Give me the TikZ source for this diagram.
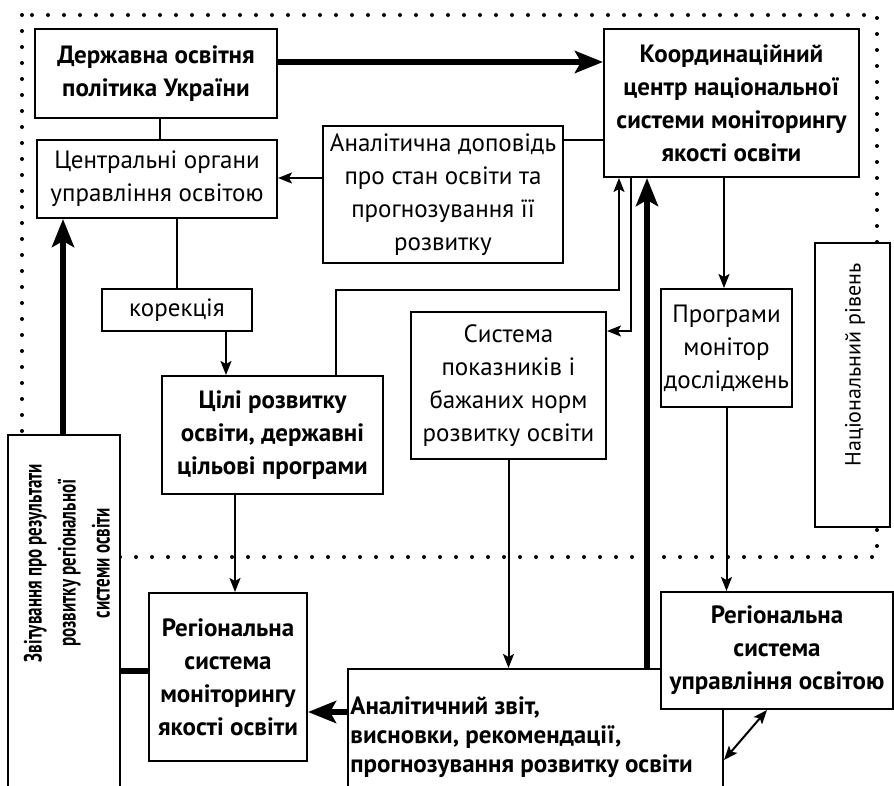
\documentclass[tikz,border=0pt]{standalone}
\usepackage{fontspec}
\setmainfont{PT Sans}
\newfontfamily\narrowsans[FakeStretch=0.68]{PT Sans}
\usetikzlibrary{arrows.meta}

\begin{document}
\begin{tikzpicture}[x=0.5pt, y=-0.5pt,
    box/.style={draw, line width=1pt, fill=white, inner sep=0pt, align=center,
      font=\fontsize{12.5}{16.5}\selectfont},
    boldbox/.style={box, font=\fontsize{12.5}{16.5}\selectfont\bfseries},
    arr/.style={line width=1pt, -{Stealth[length=7pt, width=5.5pt, inset=1.5pt]}},
    twoarr/.style={line width=1pt, {Stealth[length=7pt, width=5.5pt, inset=1.5pt]}-{Stealth[length=7pt, width=5.5pt, inset=1.5pt]}},
    bigarr/.style={line width=3pt, -{Stealth[length=14pt, width=11pt, inset=3pt]}},
    dotframe/.style={line width=2pt, line cap=round, dash pattern=on 0pt off 8pt}]
    \useasboundingbox (0,0) rectangle (894,786);

    % national level frame
    \draw[dotframe] (22,15) rectangle (877,557);

    \node[boldbox, minimum width=121pt, minimum height=44.5pt] (dzp) at (156,73.5) {Державна освітня\\політика України};
    \node[box, minimum width=120pt, minimum height=39pt] (cou) at (157,179) {Центральні органи\\управління освітою};
    \node[box, minimum width=120pt, minimum height=68.5pt] (adp) at (443,194.5) {Аналітична доповідь\\про стан освіти та\\прогнозування її\\розвитку};
    \node[boldbox, minimum width=127.5pt, minimum height=74pt] (kc) at (731.5,103) {Координаційний\\центр національної\\системи моніторингу\\якості освіти};
    \node[box, minimum width=75pt, minimum height=21pt] (kor) at (177,310) {корекція};
    \node[boldbox, minimum width=110.5pt, minimum height=59pt] (cil) at (272.5,435) {Цілі розвитку\\освіти, державні\\цільові програми};
    \node[box, minimum width=97.5pt, minimum height=73.5pt] (spn) at (508.5,385.5) {Система\\показників і\\бажаних норм\\розвитку освіти};
    \node[box, minimum width=65.5pt, minimum height=59pt] (pmd) at (726.5,348) {Програми\\монітор\\досліджень};
    \node[box, minimum width=37.5pt, minimum height=142pt] (nr) at (852.5,385) {};
    \node[rotate=90, inner sep=0pt, font=\fontsize{11}{14}\selectfont] (nrtxt) at (855,365) {Національний рівень};

    % regional level
    \node[box, minimum width=56pt, minimum height=182.5pt] (zvit) at (64,617.5) {};
    \node[rotate=90, align=center, inner sep=0pt, font=\fontsize{12.5}{17}\narrowsans\bfseries] (zvittxt) at (67,563) {Звітування про результати\\розвитку регіональної\\системи освіти};
    \node[boldbox, minimum width=79pt, minimum height=84pt] (rsm) at (228,677) {Регіональна\\система\\моніторингу\\якості освіти};
    \node[box, minimum width=187.5pt, minimum height=65.5pt] (azv) at (535.5,734.5) {};
    \node[anchor=west, align=left, inner sep=0pt, font=\fontsize{12.5}{14.5}\selectfont\bfseries] (azvtxt) at (350,737) {Аналітичний звіт,\\висновки, рекомендації,\\прогнозування розвитку освіти};
    \node[boldbox, minimum width=116pt, minimum height=58.5pt] (rsu) at (777,650.5) {Регіональна\\система\\управління освітою};

    \draw[bigarr] (dzp.east |- 0,62) -- (kc.west |- 0,62);
    \draw[line width=1pt] (dzp.south -| 160,0) -- (cou.north -| 160,0);
    \draw[arr] (adp.west |- 0,178) -- (cou.east |- 0,178);
    \draw[line width=1pt] (adp.east |- 0,140) -- (kc.west |- 0,140);
    \draw[line width=1pt] (cou.south -| kor.north) -- (kor.north);
    \draw[arr] (kor.south -| 226,0) -- (cil.north -| 226,0);
    \draw[arr] (cil.north -| 336,0) -- ++(0,-85) -| (kc.south -| 619,0);
    \draw[arr] (kc.south -| 631,0) |- (spn.east |- 0,331);
    \draw[bigarr] (azv.north -| 647,0) -- (kc.south -| 647,0);
    \draw[arr] (kc.south -| 724,0) -- (pmd.north -| 724,0);
    \draw[arr] (pmd.south) -- (rsu.north -| pmd.south);
    \draw[arr] (spn.south) -- (azv.north -| spn.south);
    \draw[arr] (cil.south -| 235,0) -- (rsm.north -| 235,0);
    \draw[bigarr] (azv.west |- 0,712) -- (rsm.east |- 0,712);
    \draw[line width=3pt] (zvit.east |- 0,671) -- (rsm.west |- 0,671);
    \draw[bigarr] (zvit.north -| 63,0) -- (cou.south -| 63,0);
    \draw[twoarr] (rsu.south -| 767,0) -- (azv.east |- 0,760);
\end{tikzpicture}
\end{document}
